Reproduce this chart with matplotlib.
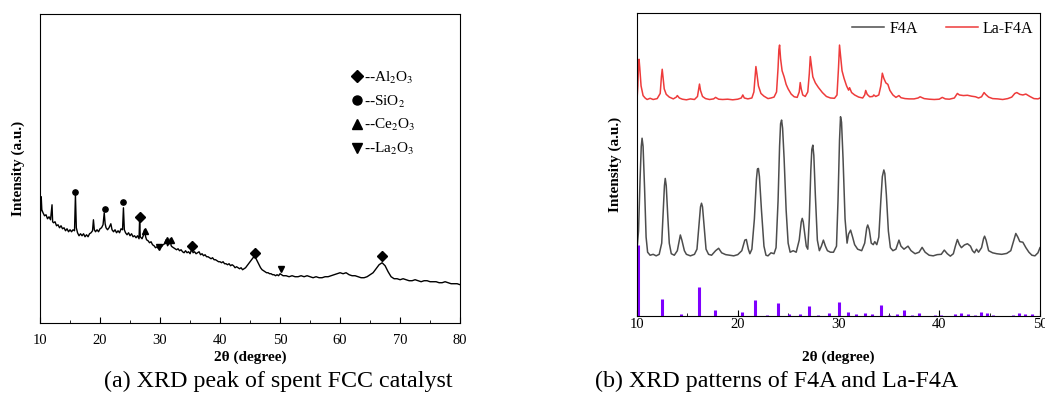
import matplotlib.pyplot as plt
import numpy as np
from matplotlib.lines import Line2D
from matplotlib.ticker import MultipleLocator

plt.rcParams['font.family'] = ['Liberation Serif', 'DejaVu Serif']
plt.rcParams['mathtext.fontset'] = 'stix'

# (a) spent FCC catalyst pattern
fcc_x = [10.0, 10.1, 10.2, 10.3, 10.5, 10.75, 11.0, 11.25, 11.5, 11.75,
         12.0, 12.1, 12.25, 12.5, 12.75, 13.0, 13.25, 13.5, 13.75,
         14.0, 14.25, 14.5, 14.75, 15.0, 15.25, 15.5, 15.75, 15.9,
         16.05, 16.25, 16.5, 16.75, 17.0, 17.25, 17.5, 17.75,
         18.0, 18.25, 18.5, 18.75, 18.9, 19.05, 19.25, 19.5, 19.75,
         20.0, 20.25, 20.5, 20.7, 20.85, 21.0, 21.25, 21.5, 21.8,
         22.0, 22.25, 22.5, 22.75, 23.0, 23.25, 23.5, 23.75, 23.9,
         24.05, 24.25, 24.5, 24.75, 25.0, 25.25, 25.5, 25.75,
         26.0, 26.25, 26.5, 26.6, 26.7, 27.0, 27.2, 27.4, 27.6, 27.75,
         28.0, 28.25, 28.5, 28.75, 29.0, 29.25, 29.5, 29.75,
         30.0, 30.25, 30.5, 30.75, 31.0, 31.25, 31.5, 31.7, 31.85,
         32.0, 32.25, 32.5, 32.75, 33.0, 33.25, 33.5, 33.75,
         34.0, 34.25, 34.5, 34.75, 35.0, 35.3, 35.5, 35.75,
         36.0, 36.25, 36.5, 36.75, 37.0, 37.25, 37.5, 37.75,
         38.0, 38.25, 38.5, 38.75, 39.0, 39.25, 39.5, 39.75,
         40.0, 40.25, 40.5, 40.75, 41.0, 41.25, 41.5, 41.75,
         42.0, 42.25, 42.5, 42.75, 43.0, 43.25, 43.5, 43.75,
         44.0, 44.25, 44.5, 44.75, 45.0, 45.25, 45.5, 45.75,
         46.0, 46.25, 46.5, 46.75, 47.0, 47.25, 47.5, 47.75,
         48.0, 48.25, 48.5, 48.75, 49.0, 49.25, 49.5, 49.75,
         50.0, 50.5, 51.0, 51.5, 52.0, 52.5, 53.0, 53.5, 54.0, 54.5,
         55.0, 55.5, 56.0, 56.5, 57.0, 57.5, 58.0, 58.5, 59.0, 59.5,
         60.0, 60.5, 61.0, 61.5, 62.0, 62.5, 63.0, 63.5, 64.0, 64.5,
         65.0, 65.5, 66.0, 66.5, 67.0, 67.5, 68.0, 68.5, 69.0, 69.5,
         70.0, 70.5, 71.0, 71.5, 72.0, 72.5, 73.0, 73.5, 74.0, 74.5,
         75.0, 75.5, 76.0, 76.5, 77.0, 77.5, 78.0, 78.5, 79.0, 79.5, 80.0]
fcc_y = [108, 112, 126, 113, 110, 107, 108, 104, 106, 103,
         118, 101, 100, 101, 97, 98, 95, 97, 94,
         95, 92, 94, 91, 93, 91, 93, 92, 128,
         95, 90, 87, 89, 87, 89, 86, 88,
         86, 89, 90, 92, 103, 93, 91, 93, 91,
         94, 95, 98, 110, 99, 95, 93, 95, 99,
         93, 91, 93, 90, 92, 90, 94, 93, 115,
         93, 90, 88, 90, 87, 89, 86, 87,
         85, 87, 84, 105, 86, 84, 87, 93, 86, 83,
         82, 80, 81, 78, 77, 75, 76, 74,
         77, 76, 78, 79, 83, 77, 79, 84, 77,
         76, 75, 74, 73, 74, 72, 73, 71,
         70, 72, 70, 71, 69, 74, 70, 71,
         69, 70, 71, 68, 69, 67, 68, 66,
         66, 65, 64, 65, 63, 63, 62, 61,
         61, 60, 61, 59, 59, 58, 59, 57,
         58, 57, 55, 56, 55, 54, 55, 53,
         54, 55, 57, 59, 61, 63, 65, 66,
         64, 61, 58, 55, 53, 52, 51, 50,
         50, 49, 49, 48, 48, 47, 48, 47,
         49, 47, 47, 46, 47, 46, 46, 47, 46, 47,
         46, 45, 46, 45, 45, 46, 46, 47, 48, 49,
         50, 49, 50, 48, 47, 47, 46, 45, 45, 46,
         48, 50, 54, 58, 60, 57, 51, 46, 44, 44,
         43, 44, 43, 42, 42, 43, 42, 41, 42, 42,
         41, 41, 41, 40, 40, 41, 40, 39, 39, 39, 38]

al2o3_pos = [(26.6, 106), (35.3, 77), (45.8, 70), (67.0, 67)]
sio2_pos = [(15.9, 131), (20.8, 114), (23.9, 121)]
ce2o3_pos = [(27.5, 92), (31.1, 83), (31.8, 83)]
la2o3_pos = [(29.9, 76), (50.1, 54)]

# (b) F4A / La-F4A patterns
f4a_x = [10.0, 10.15, 10.3, 10.42, 10.5, 10.6, 10.75, 10.9, 11.05, 11.3, 11.6, 11.9,
         12.2, 12.45, 12.6, 12.72, 12.8, 12.9, 13.05, 13.2, 13.4, 13.7,
         14.0, 14.2, 14.3, 14.45, 14.7, 14.9, 15.3, 15.7, 15.95,
         16.15, 16.3, 16.4, 16.5, 16.65, 16.85, 17.1, 17.4, 17.8,
         18.1, 18.4, 18.8, 19.2, 19.6, 20.0, 20.4, 20.7, 20.85,
         21.05, 21.2, 21.4, 21.65, 21.85, 21.95, 22.05, 22.15, 22.35, 22.6, 22.8,
         23.0, 23.3, 23.6, 23.8, 24.0, 24.15, 24.25, 24.35, 24.45, 24.6, 24.8,
         25.0, 25.2, 25.5, 25.8, 26.1, 26.3, 26.4, 26.5, 26.65, 26.8, 26.95,
         27.1, 27.25, 27.35, 27.45, 27.55, 27.7, 27.9, 28.1, 28.3, 28.5, 28.7, 28.9,
         29.2, 29.5, 29.8, 29.95, 30.1, 30.2, 30.3, 30.45, 30.65, 30.85,
         31.0, 31.2, 31.4, 31.6, 31.9, 32.3, 32.6, 32.8, 32.9,
         33.05, 33.25, 33.45, 33.6, 33.8, 34.0, 34.2, 34.35, 34.5, 34.6, 34.75, 34.95,
         35.15, 35.4, 35.7, 36.0, 36.2, 36.5, 36.9, 37.2, 37.6,
         38.0, 38.3, 38.6, 39.0, 39.4, 39.8, 40.2, 40.5, 40.8,
         41.1, 41.4, 41.6, 41.8, 42.0, 42.2, 42.5, 42.8, 43.1, 43.3, 43.5, 43.7, 43.9,
         44.2, 44.4, 44.5, 44.65, 44.9, 45.3, 45.7, 46.2, 46.7,
         47.1, 47.4, 47.6, 47.8, 48.0, 48.3, 48.6, 48.9, 49.2, 49.5, 49.8, 50.0]
f4a_y = [22, 28, 45, 56, 58.7, 56, 42, 26, 21, 20, 20.3, 19.8,
         20.3, 24, 35, 43, 45.4, 43, 33, 24, 20.5, 20,
         21.5, 25, 26.7, 25, 21.5, 20.3, 19.8, 20.3, 22,
         30, 36, 37.2, 36, 30, 22, 20.3, 20, 21.5,
         22.3, 20.8, 20.2, 20, 19.8, 20.2, 21.5, 25, 25.2,
         22, 20.5, 22, 32, 45, 48.5, 48.7, 46, 35, 23, 20,
         19.8, 20.8, 20.5, 22.5, 38, 56, 63.5, 64.7, 62, 52, 35,
         24, 21, 21.5, 21, 25, 31, 32.2, 31, 27, 23, 22,
         32, 48, 55, 56.4, 53, 40, 25, 21.5, 23, 25, 23, 21.5,
         21, 21, 23, 38, 58, 65.8, 64, 52, 32, 24,
         27, 28.3, 26, 23.5, 22, 21.5, 24, 29, 30,
         28.5, 24, 23.5, 24.5, 23.5, 26, 38, 46, 48.2, 47, 40, 28,
         22.5, 21.5, 22, 25, 23, 22, 23, 21.5, 20.5,
         21, 22.6, 21, 20, 19.8, 20.2, 20.3, 21.7, 20.5,
         19.7, 20.5, 23, 25.2, 23.5, 22.5, 23.4, 23.8, 23, 21.5, 20.8, 22, 21,
         22.5, 25.5, 26.3, 25, 21.5, 20.8, 20.5, 20.3, 20.6,
         21.5, 25, 27.2, 26, 24.5, 24.3, 22.5, 21, 20, 19.8, 20.8, 22.5]

la_x = [10.0, 10.08, 10.15, 10.2, 10.27, 10.4, 10.6, 10.8, 11.0, 11.3, 11.6,
        12.0, 12.3, 12.42, 12.5, 12.58, 12.7, 12.9, 13.2, 13.6, 13.9,
        14.0, 14.2, 14.5, 14.9, 15.3, 15.7, 16.0, 16.12, 16.2, 16.3, 16.5, 16.8,
        17.2, 17.6, 17.8, 18.1, 18.5, 19.0, 19.5, 20.0, 20.35, 20.5, 20.65,
        21.0, 21.4, 21.6, 21.72, 21.8, 21.9, 22.05, 22.3, 22.6, 23.0, 23.3, 23.6, 23.85,
        24.0, 24.08, 24.15, 24.25, 24.4, 24.6, 24.8, 25.0, 25.3, 25.6, 25.9,
        26.1, 26.2, 26.3, 26.45, 26.7, 26.95, 27.1, 27.2, 27.3, 27.45, 27.7,
        28.0, 28.4, 28.8, 29.2, 29.6, 29.85, 30.0, 30.1, 30.2, 30.35, 30.55, 30.8,
        31.0, 31.1, 31.3, 31.6, 32.0, 32.4, 32.6, 32.7, 32.85, 33.1, 33.4, 33.5, 33.7,
        34.0, 34.2, 34.35, 34.5, 34.7, 34.9, 35.1, 35.4, 35.7, 36.0, 36.2, 36.6,
        37.0, 37.5, 37.9, 38.1, 38.5, 39.0, 39.5, 40.0, 40.3, 40.6,
        41.0, 41.5, 41.8, 42.0, 42.4, 42.8, 43.2, 43.6, 43.9,
        44.2, 44.45, 44.6, 44.9, 45.3, 45.8, 46.3, 46.8, 47.2, 47.5, 47.7,
        48.0, 48.3, 48.6, 49.0, 49.4, 49.8, 50.0]
la_y = [71.5, 76, 83, 84.8, 82, 76, 72.8, 72, 71.5, 71.9, 71.5,
        71.8, 73.5, 79, 81.5, 79, 75, 73.2, 72.3, 71.7, 72.3,
        72.8, 72, 71.6, 71.4, 71.7, 71.5, 72.5, 75, 76.6, 74.5, 72.5, 71.8,
        71.5, 71.7, 72.2, 71.6, 71.5, 71.6, 71.4, 71.6, 72, 73, 72,
        71.7, 72, 74, 79, 82.4, 80, 76, 73.5, 72.6, 71.8, 72, 72.3, 74,
        82, 88, 89.5, 85, 81, 79, 76.5, 75, 73.3, 72.4, 72.2,
        74, 77.1, 75, 73, 72.5, 74, 80, 85.7, 83, 79, 77,
        75.5, 73.8, 72.5, 72, 71.9, 73, 82, 89.5, 86, 81, 78.5, 76,
        74.6, 75.4, 73.8, 73, 72.3, 72, 73, 74.5, 73.2, 72.4, 72.5, 73, 72.5,
        73, 76, 80.2, 78.5, 77, 76.5, 74.5, 73, 72.2, 72.8, 72.1, 71.8,
        71.7, 71.7, 72, 72.4, 71.8, 71.6, 71.5, 71.6, 72.2, 71.7,
        71.6, 72, 73.5, 73, 72.8, 72.9, 72.6, 72.4, 72,
        72.4, 73.8, 73.2, 72.3, 71.8, 71.7, 71.5, 71.8, 72.3, 73.5, 73.8,
        73.2, 73, 73.3, 72.5, 71.8, 71.7, 72]

ref_x = [10.13, 12.5, 14.4, 16.15, 17.7, 20.45, 21.7, 22.9, 24.0, 25.1, 26.2, 27.1, 28.0, 29.1,
         30.0, 30.9, 31.7, 32.6, 33.35, 34.25, 35.0, 35.8, 36.5, 37.3, 38.0, 39.6, 40.2, 41.6,
         42.2, 42.9, 43.5, 44.1, 44.7, 45.3, 47.3, 47.9, 48.5, 49.2]
ref_h = [23.4, 5.6, 0.5, 9.4, 2.0, 1.1, 5.2, 0.4, 4.1, 0.5, 0.7, 3.3, 0.4, 0.9,
         4.4, 1.1, 0.7, 0.9, 0.6, 3.4, 0.4, 0.6, 1.9, 0.4, 0.9, 0.4, 0.4, 0.5,
         0.9, 0.6, 0.4, 1.3, 0.8, 0.3, 0.4, 1.0, 0.6, 0.5]

fig = plt.figure(figsize=(10.45, 3.94), dpi=100)
ax1 = fig.add_axes([0.0383, 0.181, 0.402, 0.7836])
ax2 = fig.add_axes([0.6096, 0.1987, 0.3856, 0.7675])

ax1.plot(fcc_x, fcc_y, color='black', lw=1.0)
for pts, m, ms in [(al2o3_pos, 'D', 5), (sio2_pos, 'o', 3.8), (ce2o3_pos, '^', 5), (la2o3_pos, 'v', 5)]:
    px, py = zip(*pts)
    ax1.plot(px, py, ls='none', marker=m, ms=ms, color='black')
ax1.set_xlim(10, 80)
ax1.set_ylim(0, 309)
ax1.xaxis.set_major_locator(MultipleLocator(10))
ax1.xaxis.set_minor_locator(MultipleLocator(5))
ax1.set_yticks([])
ax1.tick_params(axis='x', which='both', direction='in', labelsize=10.5, pad=8)
ax1.tick_params(axis='x', which='major', length=4)
ax1.tick_params(axis='x', which='minor', length=2.5)
ax1.set_xlabel('2θ (degree)', fontweight='bold', fontsize=11, labelpad=3)
ax1.set_ylabel('Intensity (a.u.)', fontweight='bold', fontsize=11, labelpad=11)

handles = [Line2D([], [], ls='none', marker=m, ms=6.5, color='black') for m in ['D', 'o', '^', 'v']]
labels = ['--Al$_2$O$_3$', '--SiO$_2$', '--Ce$_2$O$_3$', '--La$_2$O$_3$']
ax1.legend(handles, labels, loc='upper left', bbox_to_anchor=(0.726, 0.844), frameon=False,
           fontsize=11, handlelength=0.6, handletextpad=0.15, labelspacing=0.5, borderpad=0)

ax2.plot(f4a_x, f4a_y, color='#4d4d4d', lw=1.1, label='F4A')
ax2.plot(la_x, la_y, color='#ee3b3b', lw=1.1, label='La-F4A')
ax2.vlines(ref_x, 0, ref_h, color='#7f00ff', lw=2.2)
ax2.set_xlim(10, 50)
ax2.set_ylim(0, 100)
ax2.xaxis.set_major_locator(MultipleLocator(10))
ax2.xaxis.set_minor_locator(MultipleLocator(5))
ax2.set_yticks([])
ax2.tick_params(axis='x', which='both', direction='in', labelsize=10.5, pad=2)
ax2.tick_params(axis='x', which='major', length=4)
ax2.tick_params(axis='x', which='minor', length=2.5)
ax2.set_xlabel('2θ (degree)', fontweight='bold', fontsize=11, labelpad=14)
ax2.set_ylabel('Intensity (a.u.)', fontweight='bold', fontsize=11, labelpad=11)
ax2.legend(loc='upper right', bbox_to_anchor=(1.0, 1.0), ncol=2, frameon=False, fontsize=11.5,
           handlelength=2.0, handletextpad=0.3, columnspacing=1.75, borderaxespad=0.25, borderpad=0.2)

fig.text(0.266, 1 - 387 / 394, '(a) XRD peak of spent FCC catalyst', ha='center', va='baseline', fontsize=17.3)
fig.text(0.7435, 1 - 387 / 394, '(b) XRD patterns of F4A and La-F4A', ha='center', va='baseline', fontsize=17.3)

fig.savefig('out.png', dpi=100)
